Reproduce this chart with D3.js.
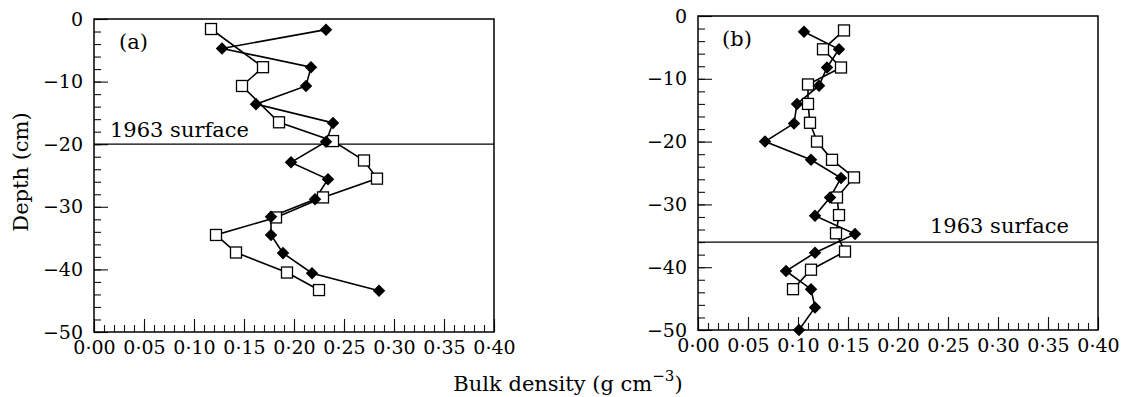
<!DOCTYPE html>
<html>
<head>
<meta charset="utf-8">
<script src="https://cdn.jsdelivr.net/npm/d3@7"></script>
<style>
  body { margin: 0; background: #fff; }
  svg { display: block; }
</style>
</head>
<body>
<div id="chart"></div>
<script>
// panel (a)
var aSquareDepth = [-1.6, -7.7, -10.7, -16.5, -19.5, -22.6, -25.5, -28.5, -31.7, -34.5, -37.3, -40.5, -43.3];
var aSquareValue = [0.117, 0.169, 0.148, 0.185, 0.239, 0.270, 0.283, 0.229, 0.182, 0.122, 0.142, 0.193, 0.225];
var aDiamondDepth = [-1.7, -4.7, -7.7, -10.7, -13.6, -16.6, -19.6, -22.9, -25.6, -28.8, -31.6, -34.5, -37.4, -40.6, -43.4];
var aDiamondValue = [0.232, 0.128, 0.217, 0.212, 0.162, 0.239, 0.232, 0.197, 0.234, 0.221, 0.177, 0.177, 0.189, 0.218, 0.285];
var aSurface = -20;

// panel (b)
var bSquareDepth = [-2.3, -5.3, -8.2, -10.9, -14.0, -17.0, -20.0, -22.9, -25.7, -28.9, -31.7, -34.6, -37.5, -40.4, -43.5];
var bSquareValue = [0.146, 0.125, 0.143, 0.110, 0.110, 0.112, 0.119, 0.134, 0.156, 0.139, 0.141, 0.138, 0.147, 0.113, 0.095];
var bDiamondDepth = [-2.5, -5.3, -8.2, -11.1, -14.0, -17.1, -20.0, -22.9, -25.8, -28.9, -31.8, -34.7, -37.7, -40.6, -43.5, -46.4, -50.0];
var bDiamondValue = [0.106, 0.141, 0.129, 0.121, 0.099, 0.096, 0.067, 0.113, 0.143, 0.132, 0.117, 0.157, 0.117, 0.088, 0.113, 0.117, 0.101];
var bSurface = -36;

var xTicks = [0, 0.05, 0.10, 0.15, 0.20, 0.25, 0.30, 0.35, 0.40];
var yTicks = [0, -10, -20, -30, -40, -50];

var width = 1125, height = 397;
var font = "'DejaVu Serif', serif";

var svg = d3.select("#chart").append("svg")
	.attr("width", width)
	.attr("height", height);

function zip(d, v) {
	return d.map(function(depth, i) { return { depth: depth, value: v[i] }; });
}

function panel(opts) {
	var x = d3.scaleLinear().domain([0, 0.40]).range([opts.left, opts.left + 400]);
	var y = d3.scaleLinear().domain([0, -50]).range([opts.top, opts.bottom]);
	var g = svg.append("g");

	// minor ticks
	g.append("g")
		.attr("transform", "translate(0," + opts.bottom + ")")
		.call(d3.axisBottom(x).tickValues(d3.range(0, 41).map(function(i) { return i / 100; }))
			.tickSize(-7).tickFormat(""))
		.call(function(s) { s.select(".domain").remove(); });
	g.append("g")
		.attr("transform", "translate(" + opts.left + ",0)")
		.call(d3.axisLeft(y).tickValues(d3.range(0, 26).map(function(i) { return -2 * i; }))
			.tickSize(-7).tickFormat(""))
		.call(function(s) { s.select(".domain").remove(); });

	// major ticks + labels
	var xa = g.append("g")
		.attr("transform", "translate(0," + opts.bottom + ")")
		.call(d3.axisBottom(x).tickValues(xTicks).tickSize(-13).tickPadding(9)
			.tickFormat(function(d) { return d3.format(".2f")(d).replace(".", "\u00b7"); }));
	var ya = g.append("g")
		.attr("transform", "translate(" + opts.left + ",0)")
		.call(d3.axisLeft(y).tickValues(yTicks).tickSize(-14).tickPadding(11));
	[xa, ya].forEach(function(a) {
		a.select(".domain").remove();
		a.selectAll("text").style("font-family", font).style("font-size", "19px").attr("fill", "#000");
	});
	g.selectAll(".tick line").attr("stroke", "#111").attr("stroke-width", 1.1);

	// frame
	g.append("rect")
		.attr("x", opts.left)
		.attr("y", opts.top)
		.attr("width", 400)
		.attr("height", opts.bottom - opts.top)
		.attr("fill", "none")
		.attr("stroke", "#000")
		.attr("stroke-width", 1.5);

	// 1963 surface
	g.append("line")
		.attr("x1", x(0)).attr("x2", x(0.40))
		.attr("y1", y(opts.surface)).attr("y2", y(opts.surface))
		.attr("stroke", "#000").attr("stroke-width", 1.3);
	g.append("text")
		.attr("x", x(opts.surfaceX))
		.attr("y", y(opts.surface) - opts.surfaceGap)
		.style("font-family", font)
		.style("font-size", "21px")
		.attr("fill", "#000")
		.text("1963 surface");

	g.append("text")
		.attr("x", opts.left + opts.labelDx)
		.attr("y", opts.top + 30)
		.style("font-family", font)
		.style("font-size", "21px")
		.attr("fill", "#000")
		.text(opts.label);

	var line = d3.line().x(function(d) { return x(d.value); }).y(function(d) { return y(d.depth); });
	var sq = zip(opts.sqDepth, opts.sqValue);
	var di = zip(opts.diDepth, opts.diValue);

	g.append("path").datum(sq).attr("d", line)
		.attr("fill", "none").attr("stroke", "#000").attr("stroke-width", 1.6);
	g.append("path").datum(di).attr("d", line)
		.attr("fill", "none").attr("stroke", "#000").attr("stroke-width", 1.6);

	g.selectAll(".sq").data(sq).enter().append("rect")
		.attr("x", function(d) { return x(d.value) - 5.5; })
		.attr("y", function(d) { return y(d.depth) - 5.5; })
		.attr("width", 11).attr("height", 11)
		.attr("fill", "#fff").attr("stroke", "#000").attr("stroke-width", 1.3);

	g.selectAll(".di").data(di).enter().append("path")
		.attr("d", d3.symbol().type(d3.symbolDiamond2).size(100))
		.attr("transform", function(d) { return "translate(" + x(d.value) + "," + y(d.depth) + ")"; })
		.attr("fill", "#000");
}

panel({
	left: 94, top: 19, bottom: 332, label: "(a)", labelDx: 25,
	surface: aSurface, surfaceX: 0.016, surfaceGap: 7,
	sqDepth: aSquareDepth, sqValue: aSquareValue,
	diDepth: aDiamondDepth, diValue: aDiamondValue
});

panel({
	left: 698, top: 16, bottom: 330, label: "(b)", labelDx: 24,
	surface: bSurface, surfaceX: 0.232, surfaceGap: 9,
	sqDepth: bSquareDepth, sqValue: bSquareValue,
	diDepth: bDiamondDepth, diValue: bDiamondValue
});

// axis titles
svg.append("text")
	.attr("transform", "translate(28,172) rotate(-90)")
	.attr("text-anchor", "middle")
	.style("font-family", font)
	.style("font-size", "21px")
	.attr("fill", "#000")
	.text("Depth (cm)");

var xt = svg.append("text")
	.attr("x", 568)
	.attr("y", 391)
	.attr("text-anchor", "middle")
	.style("font-family", font)
	.style("font-size", "21px")
	.attr("fill", "#000");
xt.append("tspan").text("Bulk density (g cm");
xt.append("tspan").attr("dy", -10).style("font-size", "15px").text("\u22123");
xt.append("tspan").attr("dy", 10).text(")");
</script>
</body>
</html>
